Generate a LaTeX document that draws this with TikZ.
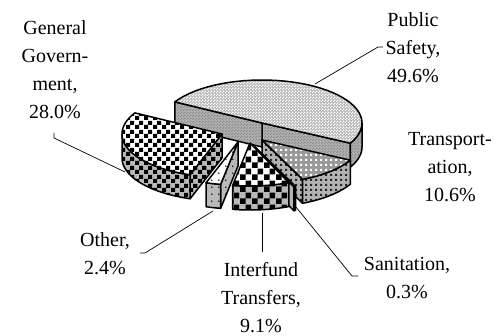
\documentclass[tikz,border=0pt]{standalone}
\usepackage{fontspec}
\setmainfont{Liberation Serif}
\usetikzlibrary{patterns}

\pgfdeclarepatternformonly{finechk}{\pgfpointorigin}{\pgfqpoint{3pt}{3pt}}{\pgfqpoint{3pt}{3pt}}{%
  \pgfpathrectangle{\pgfpointorigin}{\pgfqpoint{1.5pt}{1.5pt}}%
  \pgfpathrectangle{\pgfqpoint{1.5pt}{1.5pt}}{\pgfqpoint{1.5pt}{1.5pt}}%
  \pgfusepath{fill}}
\pgfdeclarepatternformonly{midchk}{\pgfpointorigin}{\pgfqpoint{9pt}{9pt}}{\pgfqpoint{9pt}{9pt}}{%
  \pgfpathrectangle{\pgfpointorigin}{\pgfqpoint{4.5pt}{4.5pt}}%
  \pgfpathrectangle{\pgfqpoint{4.5pt}{4.5pt}}{\pgfqpoint{4.5pt}{4.5pt}}%
  \pgfusepath{fill}}
\pgfdeclarepatternformonly{bigchk}{\pgfpointorigin}{\pgfqpoint{12pt}{12pt}}{\pgfqpoint{12pt}{12pt}}{%
  \pgfpathrectangle{\pgfpointorigin}{\pgfqpoint{6pt}{6pt}}%
  \pgfpathrectangle{\pgfqpoint{6pt}{6pt}}{\pgfqpoint{6pt}{6pt}}%
  \pgfusepath{fill}}
\pgfdeclarepatternformonly{sqdots}{\pgfpointorigin}{\pgfqpoint{5pt}{5pt}}{\pgfqpoint{5pt}{5pt}}{%
  \pgfpathrectangle{\pgfpointorigin}{\pgfqpoint{2.5pt}{2.5pt}}%
  \pgfusepath{fill}}
\pgfdeclarepatternformonly{sparsedots}{\pgfpointorigin}{\pgfqpoint{7pt}{7pt}}{\pgfqpoint{7pt}{7pt}}{%
  \pgfpathcircle{\pgfqpoint{2pt}{2pt}}{0.9pt}%
  \pgfusepath{fill}}

\def\RX{100}
\def\RY{43}
\def\HH{24}

% top face: cx cy a1 a2 style
\newcommand\topface[5]{%
  \path[#5,outl] (#1,#2) -- plot[domain=#3:#4,samples=40] ({#1+\RX*cos(\x)},{#2-\RY*sin(\x)}) -- cycle;}
% outer rim face: cx cy b1 b2 style
\newcommand\rimface[5]{%
  \path[#5,outl] plot[domain=#3:#4,samples=40] ({#1+\RX*cos(\x)},{#2-\RY*sin(\x)})
    -- plot[domain=#4:#3,samples=40] ({#1+\RX*cos(\x)},{#2+\HH-\RY*sin(\x)}) -- cycle;}
% cut face: cx cy a style
\newcommand\cutface[4]{%
  \path[#4,outl] (#1,#2) -- ({#1+\RX*cos(#3)},{#2-\RY*sin(#3)})
    -- ({#1+\RX*cos(#3)},{#2+\HH-\RY*sin(#3)}) -- (#1,{#2+\HH}) -- cycle;}

\begin{document}
\begin{tikzpicture}[x=1pt,y=-1pt,
  outl/.style={draw=black,line width=1.5pt,line join=round},
  lead/.style={draw=black,line width=0.7pt},
  lab/.style={align=center,font=\fontsize{20}{28}\selectfont,inner sep=0pt},
  pst/.style={preaction={fill=gray!55},pattern=finechk,pattern color=white},
  pss/.style={preaction={fill=gray!60},pattern=finechk,pattern color=gray!90},
  ggt/.style={preaction={fill=white},pattern=midchk,pattern color=black},
  ggs/.style={preaction={fill=gray!55},pattern=midchk,pattern color=black},
  trt/.style={preaction={fill=gray!80},pattern=sqdots,pattern color=white},
  trs/.style={preaction={fill=gray!60},pattern=sqdots,pattern color=black!85},
  sat/.style={fill=gray!40},
  sas/.style={fill=gray!60},
  ott/.style={preaction={fill=white},pattern=sparsedots,pattern color=black},
  ots/.style={preaction={fill=gray!55},pattern=sparsedots,pattern color=black},
  int/.style={preaction={fill=white},pattern=bigchk,pattern color=black},
  ins/.style={preaction={fill=gray!55},pattern=bigchk,pattern color=black}]
\useasboundingbox (0,0) rectangle (494,336);

% Public Safety
\cutface{262}{123}{-28}{pss}
\cutface{262}{123}{150.6}{pss}
\rimface{262}{123}{-28}{0}{pss}
\topface{262}{123}{-28}{150.6}{pst}
% General Government
\cutface{222}{134}{251.4}{ggs}
\rimface{222}{134}{180}{251.4}{ggs}
\topface{222}{134}{150.6}{251.4}{ggt}
% Transportation
\cutface{262}{140}{293.9}{trs}
\rimface{262}{140}{293.9}{332}{trs}
\topface{262}{140}{293.9}{332}{trt}
% Sanitation
\cutface{255}{147}{292.8}{sas}
\rimface{255}{147}{292.8}{293.9}{sas}
\topface{255}{147}{292.8}{293.9}{sat}
% Other
\cutface{238}{142}{260}{ots}
\rimface{238}{142}{251.4}{260}{ots}
\topface{238}{142}{251.4}{260}{ott}
% Interfund Transfers
\rimface{250}{143}{260}{292.8}{ins}
\topface{250}{143}{260}{292.8}{int}

% labels
\node[lab] (lps) at (413,48) {Public\\Safety,\\49.6\%};
\node[lab] (lgg) at (55,70) {General\\Govern-\\ment,\\28.0\%};
\node[lab] (ltr) at (450,167) {Transport-\\ation,\\10.6\%};
\node[lab] (lot) at (105,254) {Other,\\2.4\%};
\node[lab] (lin) at (261,298) {Interfund\\Transfers,\\9.1\%};
\node[lab] (lsa) at (407,278) {Sanitation,\\0.3\%};

% leader lines
\coordinate (ps1) at (315,84);
\coordinate (ps2) at (378,47);
\coordinate (ps3) at (383,47);
\draw[lead] (ps1) -- (ps2) -- (ps3);
\coordinate (gg1) at (125,172);
\coordinate (gg2) at (54,138);
\coordinate (gg3) at (54,133);
\draw[lead] (gg1) -- (gg2) -- (gg3);
\coordinate (ot1) at (213,211);
\coordinate (ot2) at (145,253);
\coordinate (ot3) at (140,253);
\draw[lead] (ot1) -- (ot2) -- (ot3);
\coordinate (in1) at (262,213);
\coordinate (in2) at (262,252);
\draw[lead] (in1) -- (in2);
\coordinate (sa1) at (296,207);
\coordinate (sa2) at (352,276);
\coordinate (sa3) at (358,276);
\draw[lead] (sa1) -- (sa2) -- (sa3);
\end{tikzpicture}
\end{document}
